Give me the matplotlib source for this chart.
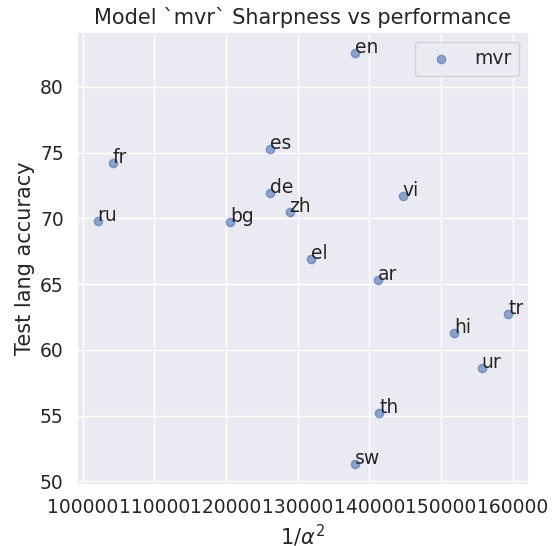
import matplotlib
matplotlib.use("Agg")
import matplotlib.pyplot as plt
import seaborn as sns

langs = ["en", "fr", "es", "de", "ru", "bg", "zh", "el", "vi", "ar", "hi", "tr", "ur", "th", "sw"]
inv_alpha2 = [138000, 104170, 126100, 126100, 102080, 120560, 128900, 131900, 144700, 141250,
              151800, 159400, 155700, 141400, 138000]
accuracy = [82.6, 74.2, 75.3, 71.9, 69.8, 69.7, 70.5, 66.9, 71.7, 65.3, 61.3, 62.7, 58.6, 55.2, 51.3]

sns.set_theme(style="darkgrid")
plt.rcParams['font.family'] = ['DejaVu Sans']

fig, ax = plt.subplots(figsize=(5.56, 5.46), dpi=100)
ax.scatter(inv_alpha2, accuracy, alpha=0.6, color="#4C72B0", s=36, label="mvr")
for l, x, y in zip(langs, inv_alpha2, accuracy):
    ax.annotate(l, (x, y), fontsize=13.5, color="#262626")
ax.set_title("Model `mvr` Sharpness vs performance", fontsize=15)
ax.set_xlabel(r"1/$\alpha^2$", fontsize=15)
ax.set_ylabel("Test lang accuracy", fontsize=15)
ax.set_xticks([100000, 110000, 120000, 130000, 140000, 150000, 160000])
ax.tick_params(labelsize=13.5)
ax.legend(loc="upper right", fontsize=13.5)
fig.subplots_adjust(left=0.1385, right=0.951, top=0.941, bottom=0.112)
fig.savefig("out.png", dpi=100)
